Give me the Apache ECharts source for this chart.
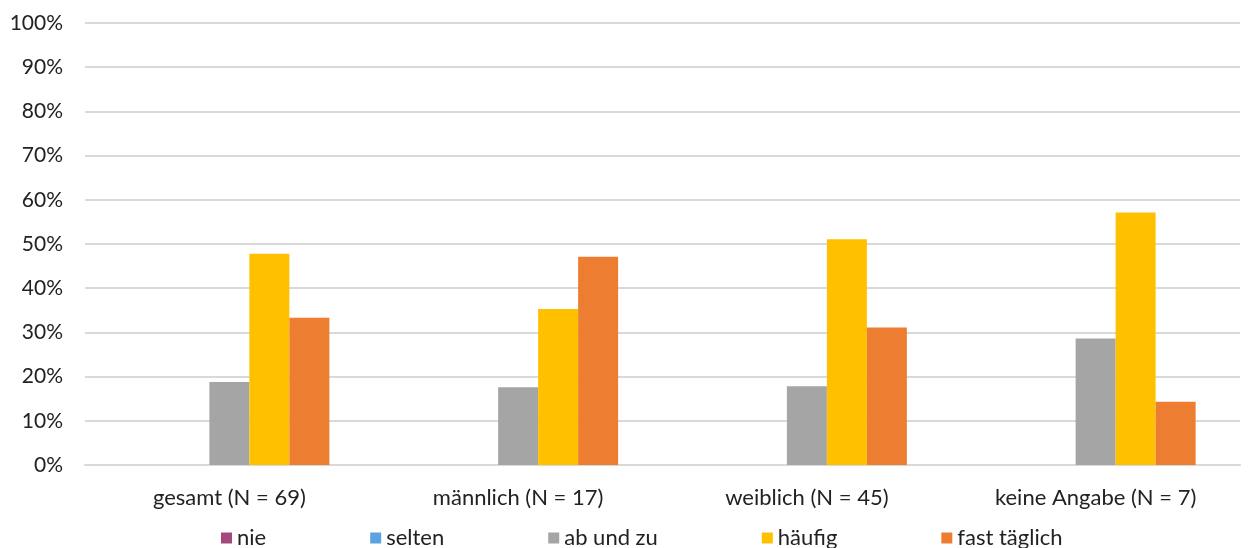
<!DOCTYPE html>
<html>
<head>
<meta charset="utf-8">
<script src="https://cdn.jsdelivr.net/npm/echarts@6/dist/echarts.min.js"></script>
<style>
  html, body { margin: 0; padding: 0; background: #fff; }
  #chart { width: 1248px; height: 548px; }
</style>
</head>
<body>
<div id="chart"></div>
<script>
// Gruppen (Kategorien) und Anteile je Antwort in Prozent
const categories = ['gesamt (N = 69)', 'männlich (N = 17)', 'weiblich (N = 45)', 'keine Angabe (N = 7)'];
const seriesNames = ['nie', 'selten', 'ab und zu', 'häufig', 'fast täglich'];
const nie = [0, 0, 0, 0];
const selten = [0, 0, 0, 0];
const abUndZu = [18.8, 17.6, 17.8, 28.6];
const haeufig = [47.8, 35.3, 51.1, 57.1];
const fastTaeglich = [33.3, 47.1, 31.1, 14.3];
const colors = ['#A5487D', '#5BA3E0', '#A5A5A5', '#FFC000', '#ED7D31'];

const values = [nie, selten, abUndZu, haeufig, fastTaeglich];
const font = 'Lato, "Open Sans", sans-serif';

const chart = echarts.init(document.getElementById('chart'));
chart.setOption({
  animation: false,
  textStyle: { fontFamily: font },
  grid: { left: 85, right: 8, top: 23, bottom: 83 },
  legend: {
    left: 221,
    top: 527,
    padding: 0,
    itemWidth: 11,
    itemHeight: 11,
    itemGap: 104,
    icon: 'rect',
    textStyle: { fontFamily: font, fontSize: 22, color: '#222' },
    data: seriesNames
  },
  xAxis: {
    type: 'category',
    data: categories,
    axisLine: { show: true, lineStyle: { color: '#d9d9d9', width: 2 } },
    axisTick: { show: false },
    axisLabel: { fontFamily: font, fontSize: 22, color: '#222', margin: 22 }
  },
  yAxis: {
    type: 'value',
    min: 0,
    max: 100,
    interval: 10,
    axisLine: { show: false },
    axisTick: { show: false },
    splitLine: { lineStyle: { color: '#d9d9d9', width: 2 } },
    axisLabel: { fontFamily: font, fontSize: 21, color: '#222', margin: 22, formatter: '{value}%' }
  },
  series: seriesNames.map((name, i) => ({
    name,
    type: 'bar',
    data: values[i],
    barWidth: 40,
    barGap: '0%',
    itemStyle: { color: colors[i] }
  }))
});
</script>
</body>
</html>
